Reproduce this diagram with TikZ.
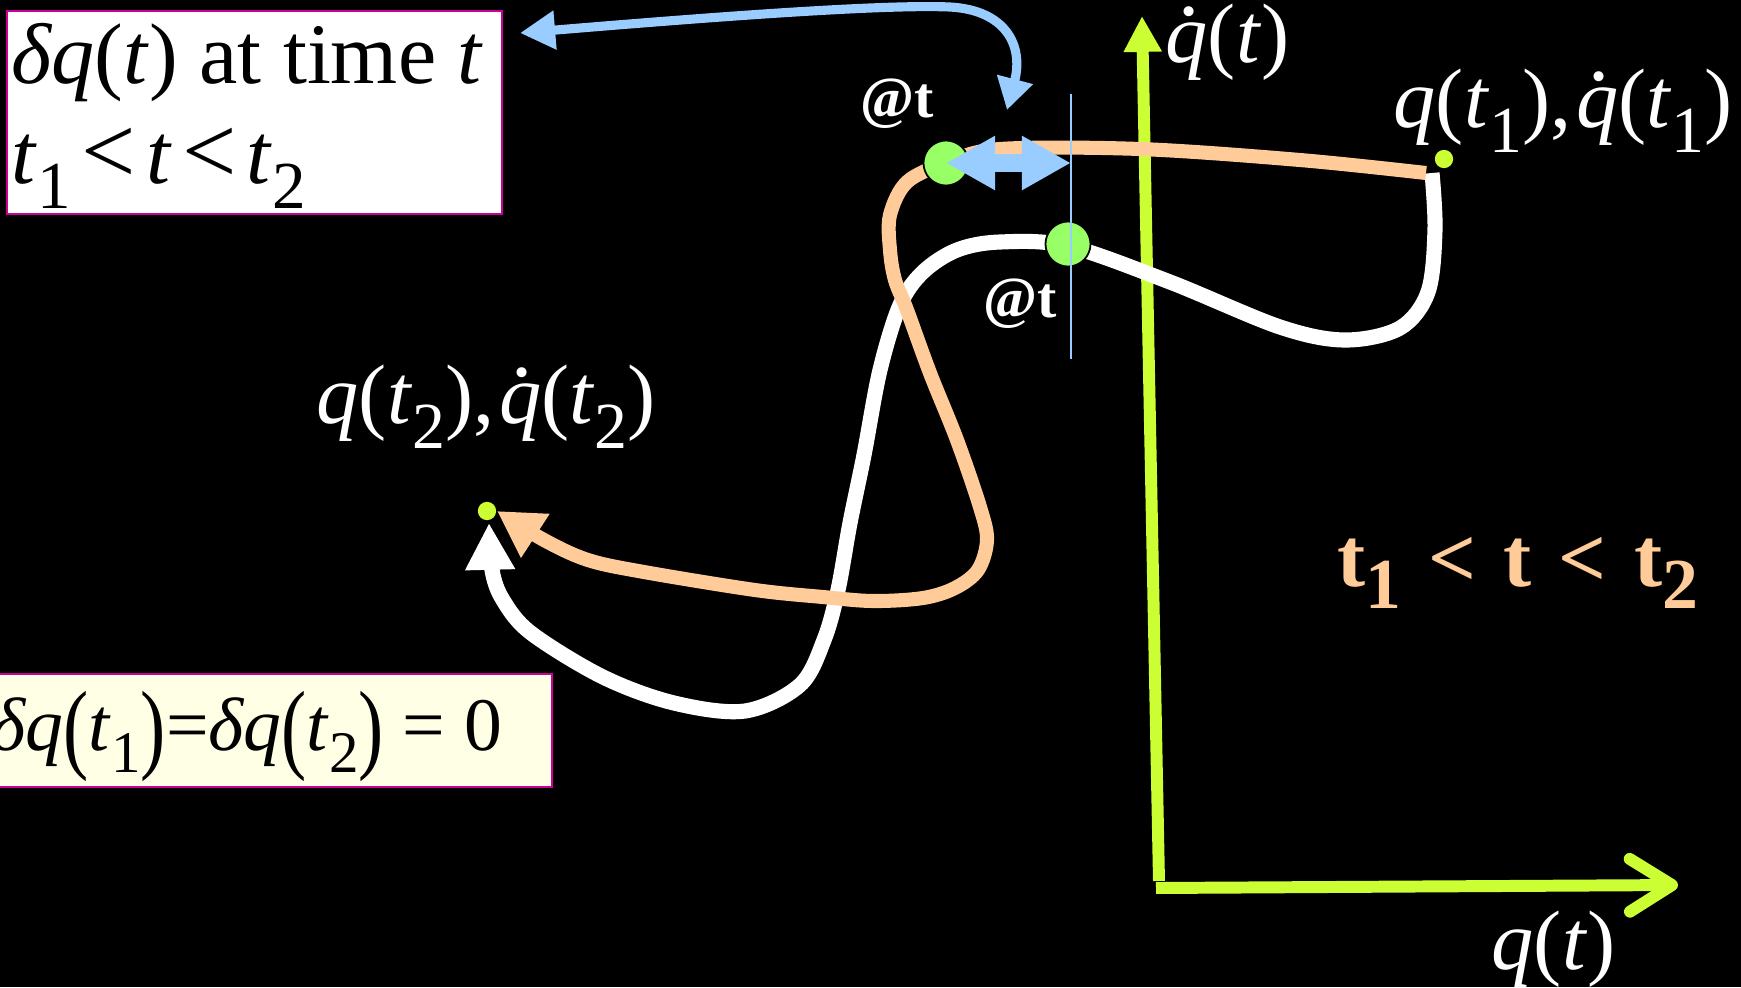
\documentclass[tikz,border=0pt]{standalone}
\usepackage{fontspec}
\setmainfont{Liberation Serif}
\usepackage{graphicx}
\usepackage{xcolor}
\definecolor{curveorange}{RGB}{255, 204, 153}
\definecolor{arrowblue}{RGB}{153, 204, 255}
\definecolor{axisgreen}{RGB}{204, 255, 51}
\definecolor{dotgreen}{RGB}{153, 255, 102}
\definecolor{boxmagenta}{RGB}{204, 0, 153}
\definecolor{boxcream}{RGB}{255, 255, 229}
\usepackage{tikz}
\usetikzlibrary{arrows.meta, positioning, calc}

\newcommand{\qdot}{\textit{q}\llap{\raisebox{0.55em}{.}\hspace{0.1em}}}
\newcommand{\lowidx}[1]{\raisebox{-0.3em}{\scalebox{0.78}{#1}}}
\newcommand{\tallpar}[1]{\raisebox{-0.14em}{\scalebox{1}[1.32]{#1}}}
\newcommand{\lessgap}{\hspace{0.12em}\scalebox{1.12}{<}\hspace{0.12em}}

\begin{document}
\begin{tikzpicture}[x=0.01cm, y=-0.01cm, >=Stealth,
    lbl/.style={text=white, font=\fontsize{24}{28}\selectfont, anchor=base west, inner sep=0pt},
    atlbl/.style={text=white, font=\fontsize{16.5}{20}\selectfont\bfseries, anchor=base west, inner sep=0pt},
    boxtxt/.style={text=black, font=\fontsize{24.5}{28}\selectfont, anchor=base west, inner sep=0pt},
    gdot/.style={circle, fill=dotgreen, draw=black, line width=0.5pt, minimum size=12.8pt, inner sep=0pt},
    ydot/.style={circle, fill=axisgreen, minimum size=5.2pt, inner sep=0pt},
    axisline/.style={axisgreen, line width=3.4pt}]
    \fill[black] (0,0) rectangle (1741,987);
    \useasboundingbox (0,0) rectangle (1741,987);

    % axes
    \coordinate (O) at (1159,881);
    \coordinate (Ytip) at (1142,16);
    \coordinate (Xstart) at (1156,888);
    \coordinate (Xtip) at (1678,885);
    \draw[axisline, -{Triangle[length=10.2pt, width=10.2pt]}] (O) -- (Ytip);
    \draw[axisline, -{Straight Barb[round, length=12pt, width=15pt]}] (Xstart) -- (Xtip);
    \node[lbl] (qdotlbl) at (1165,62) {\qdot(\textit{t})};
    \node[lbl] (qlbl) at (1491,969) {\textit{q}(\textit{t})};

    % end points
    \node[ydot] (q1) at (1444,159) {};
    \node[ydot] (q2) at (487,511) {};
    \coordinate (wTip) at (489,523);
    \coordinate (oTip) at (497,511);

    % varied path and true path
    \draw[white, line width=4.3pt, -{Triangle[length=13.3pt, width=13.3pt]}]
        plot[smooth, tension=0.55] coordinates {(1432,173) (1435,230) (1428,292) (1400,328) (1345,340)
        (1280,327) (1170,282) (1068,246) (1000,242) (957,250) (923,272) (900,305) (880,370) (864,455)
        (850,523) (838,590) (824,640) (800,685) (745,711) (674,703) (603,677) (531,633) (503,600)
        (492,570) (wTip)};
    \draw[curveorange, line width=4pt, -{Triangle[length=13pt, width=14pt]}]
        plot[smooth, tension=0.55] coordinates {(1426,173) (1300,160) (1140,149) (1000,149) (946,163)
        (907,182) (890,215) (890,250) (895,280) (907,310) (930,373) (957,440) (980,507) (987,540)
        (978,570) (955,588) (923,598) (873,601) (823,597) (755,590) (644,572) (588,560) (544,540) (oTip)};

    \node[gdot] (at1) at (946,163) {};
    \node[gdot] (at2) at (1068,244) {};
    \coordinate (tTop) at (1071,94);
    \coordinate (tBot) at (1071,359);
    \draw[arrowblue, line width=0.6pt] (tTop) -- (tBot);
    \draw[arrowblue, line width=5pt, {Triangle[length=14pt, width=14.5pt]}-{Triangle[length=14pt, width=14.5pt]}]
        (at1.center) -- (at1.center -| tTop);
    \node[atlbl] (at1lbl) at (860,117) {@t};
    \node[atlbl] (at2lbl) at (983,317) {@t};

    \node[lbl] (q1lbl) at (1393,127) {\textit{q}(\textit{t}\lowidx{1}),\hspace{0.06em}\qdot(\textit{t}\lowidx{1})};
    \node[lbl] (q2lbl) at (316,423) {\textit{q}(\textit{t}\lowidx{2}),\hspace{0.06em}\qdot(\textit{t}\lowidx{2})};
    \node[text=curveorange, font=\fontsize{24}{28}\selectfont\bfseries, anchor=base west, inner sep=0pt]
        (range) at (1337,586) {t\raisebox{-0.27em}{\scalebox{0.85}{1}}\hspace{0.32em}<\hspace{0.32em}t\hspace{0.32em}<\hspace{0.32em}t\raisebox{-0.27em}{\scalebox{0.85}{2}}};

    % variation box
    \draw[boxmagenta, fill=white, line width=0.7pt] (7,11) rectangle (502,214);
    \node[boxtxt] (line1) at (11,83) {\textit{δq}(\textit{t}) at time \textit{t}};
    \node[boxtxt] (line2) at (11,183) {\textit{t}\lowidx{1}\lessgap\textit{t}\lessgap\textit{t}\lowidx{2}};
    \coordinate (boxTip) at (520,33);
    \coordinate (atTip) at (1007,110);
    \draw[arrowblue, line width=2.6pt, {Triangle[length=10pt, width=10.5pt]}-{Triangle[length=9pt, width=10pt]}]
        (boxTip) .. controls (700,18) and (880,4) .. (950,7) .. controls (1005,10) and (1024,45) .. (atTip);

    % end conditions
    \draw[boxmagenta, fill=boxcream, line width=0.7pt] (-10,674) rectangle (552,787);
    \node[text=black, font=\fontsize{21.5}{26}\selectfont, anchor=base east, inner sep=0pt] (ends) at (503,750)
        {\textit{δq}\tallpar{(}\textit{t}\lowidx{1}\tallpar{)}=\textit{δq}\tallpar{(}\textit{t}\lowidx{2}\tallpar{)} = 0};
\end{tikzpicture}
\end{document}
